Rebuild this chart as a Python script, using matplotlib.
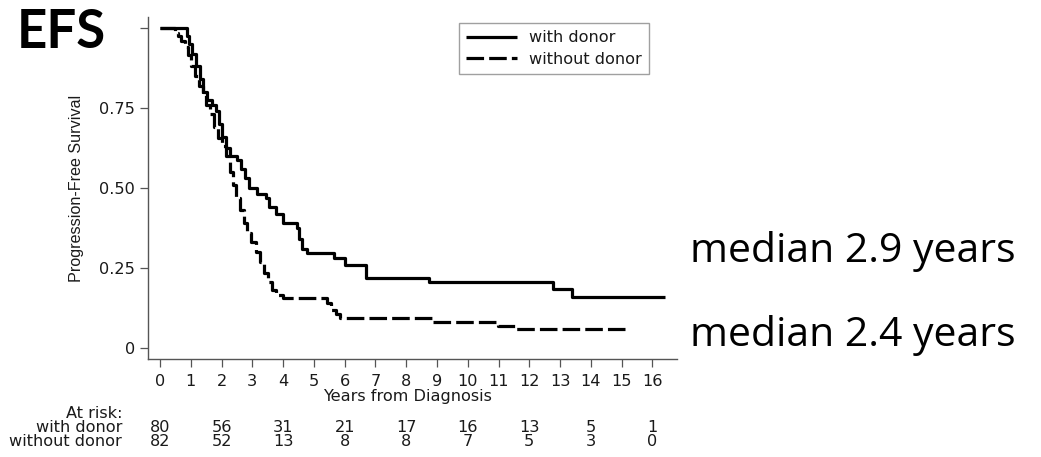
import matplotlib
matplotlib.use("Agg")
import matplotlib.pyplot as plt
from matplotlib.transforms import blended_transform_factory

# ---- data ----
with_t = [0, 0.88, 0.94, 1.04, 1.17, 1.30, 1.40, 1.53, 1.69, 1.82, 1.92, 2.01, 2.14, 2.27,
          2.50, 2.63, 2.76, 2.89, 3.15, 3.44, 3.54, 3.77, 3.99, 4.45, 4.51, 4.61, 4.77,
          5.65, 6.00, 6.69, 8.73, 12.76, 13.38, 16.4]
with_s = [1.0, 0.975, 0.95, 0.92, 0.88, 0.84, 0.80, 0.775, 0.76, 0.74, 0.70, 0.66, 0.625, 0.60,
          0.5875, 0.56, 0.53, 0.50, 0.48, 0.47, 0.44, 0.42, 0.39, 0.375, 0.34, 0.31, 0.297,
          0.28, 0.26, 0.22, 0.205, 0.185, 0.16, 0.16]

without_t = [0, 0.49, 0.58, 0.68, 0.81, 0.91, 1.01, 1.14, 1.27, 1.40, 1.49, 1.62, 1.75, 1.88,
             2.01, 2.14, 2.27, 2.37, 2.47, 2.60, 2.73, 2.82, 2.95, 3.12, 3.25, 3.38, 3.51,
             3.64, 3.77, 3.99, 5.42, 5.55, 5.71, 5.84, 8.86, 10.97, 11.53, 15.1]
without_s = [1.0, 0.985, 0.975, 0.96, 0.94, 0.915, 0.88, 0.85, 0.82, 0.79, 0.76, 0.73, 0.69, 0.655,
             0.63, 0.60, 0.55, 0.51, 0.47, 0.43, 0.39, 0.36, 0.33, 0.30, 0.27, 0.235, 0.205,
             0.18, 0.165, 0.155, 0.14, 0.12, 0.105, 0.095, 0.08, 0.07, 0.06, 0.06]

x_ticks = list(range(0, 17))
y_ticks = [0, 0.25, 0.50, 0.75, 1.0]
y_tick_labels = ["0", "0.25", "0.50", "0.75", ""]

risk_times = [0, 2, 4, 6, 8, 10, 12, 14, 16]
risk_with = [80, 56, 31, 21, 17, 16, 13, 5, 1]
risk_without = [82, 52, 13, 8, 8, 7, 5, 3, 0]

series_labels = ["with donor", "without donor"]
medians = ["median 2.9 years", "median 2.4 years"]

# ---- figure ----
W, H = 1041, 457
fig = plt.figure(figsize=(W / 100, H / 100), dpi=100)
plt.rcParams['font.family'] = ['DejaVu Sans']
TXT = '#1a1a1a'
FS = 11.6

def fx(px):
    return px / W

def fy(py):
    return 1 - py / H

ax = fig.add_axes([fx(147.7), fy(359), fx(677) - fx(147.7), fy(17) - fy(359)])
ax.set_xlim(-0.4, 16.8)
ax.set_ylim(-0.034, 1.034)

l1, = ax.plot(with_t, with_s, drawstyle='steps-post', color='black', lw=2.3,
              solid_capstyle='butt', label=series_labels[0])
l2, = ax.plot(without_t, without_s, drawstyle='steps-post', color='black', lw=2.3,
              dashes=(5.5, 1.6), label=series_labels[1])

for s in ['top', 'right']:
    ax.spines[s].set_visible(False)
for s in ['left', 'bottom']:
    ax.spines[s].set_color('#555555')
    ax.spines[s].set_linewidth(1.0)

ax.set_xticks(x_ticks)
ax.set_xticklabels([str(v) for v in x_ticks])
ax.set_yticks(y_ticks)
ax.set_yticklabels(y_tick_labels)
ax.tick_params(axis='both', length=6, width=0.9, color='#555555', labelsize=FS,
               labelcolor=TXT)
ax.tick_params(axis='y', pad=3.0)
ax.tick_params(axis='x', pad=4.5)

ax.set_xlabel("Years from Diagnosis", fontsize=FS, color=TXT, va='center')
ax.xaxis.set_label_coords((407 - 147.7) / (677 - 147.7), (359 - 397) / (359 - 17))
ax.set_ylabel("Progression-Free Survival", fontsize=11.6, color=TXT, va='center',
              family='Liberation Sans')
ax.yaxis.set_label_coords((77 - 147.7) / (677 - 147.7), (359 - 188) / (359 - 17))

# legend
leg = fig.legend(handles=[l1, l2], loc='upper left', bbox_to_anchor=(fx(459), fy(23)),
                 prop={'size': FS}, frameon=True, fancybox=False, edgecolor='#888888',
                 handlelength=3.15, handletextpad=0.75, borderpad=0.45, labelspacing=0.4,
                 borderaxespad=0)
leg.get_frame().set_linewidth(1.0)
for t in leg.get_texts():
    t.set_color(TXT)

# at-risk table
trans = blended_transform_factory(ax.transData, fig.transFigure)
fig.text(fx(122), fy(413), "At risk:", ha='right', va='center', fontsize=FS, color=TXT)
fig.text(fx(122), fy(427), "with donor", ha='right', va='center', fontsize=FS, color=TXT)
fig.text(fx(122), fy(441), "without donor", ha='right', va='center', fontsize=FS, color=TXT)
for t, a, b in zip(risk_times, risk_with, risk_without):
    ax.text(t, fy(427), str(a), transform=trans, ha='center', va='center', fontsize=FS,
            color=TXT)
    ax.text(t, fy(441), str(b), transform=trans, ha='center', va='center', fontsize=FS,
            color=TXT)

# big annotations
fig.text(fx(17), fy(32), "EFS", ha='left', va='center', fontsize=38, fontweight='bold',
         family='Lato', color='black')
fig.text(fx(690), fy(252), medians[0], ha='left', va='center', fontsize=29.5,
         family='Open Sans', color='black')
fig.text(fx(690), fy(335), medians[1], ha='left', va='center', fontsize=29.5,
         family='Open Sans', color='black')

fig.savefig("out.png", dpi=100)
